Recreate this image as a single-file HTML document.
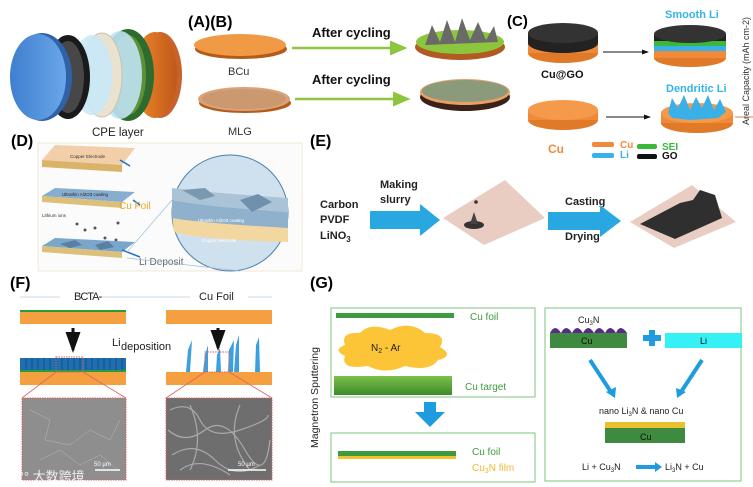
<!DOCTYPE html>
<html><head><meta charset="utf-8"><style>
html,body{margin:0;padding:0;background:#fff;width:753px;height:487px;overflow:hidden}
svg{display:block}
text{font-family:"Liberation Sans",Arial,sans-serif}
</style></head><body>
<svg width="753" height="487" viewBox="0 0 753 487" xmlns="http://www.w3.org/2000/svg">
<defs>
<linearGradient id="blu" x1="0" x2="1"><stop offset="0" stop-color="#3f7fd0"/><stop offset="1" stop-color="#6aa6e8"/></linearGradient>
<linearGradient id="org" x1="0" x2="1"><stop offset="0" stop-color="#f08a2a"/><stop offset="1" stop-color="#c0581a"/></linearGradient>
<linearGradient id="grn" x1="0" y1="0" x2="0" y2="1"><stop offset="0" stop-color="#7cc04a"/><stop offset="1" stop-color="#3d8a2a"/></linearGradient>
<linearGradient id="slab" x1="0" y1="0" x2="0" y2="1"><stop offset="0" stop-color="#6f9ec8"/><stop offset="1" stop-color="#b9d3e8"/></linearGradient>
<marker id="ga" markerWidth="8" markerHeight="8" refX="6" refY="4" orient="auto"><path d="M0,1 L7,4 L0,7 Z" fill="#8cc63f"/></marker>
<marker id="ka" markerWidth="8" markerHeight="8" refX="6" refY="4" orient="auto"><path d="M0,1.5 L7,4 L0,6.5 Z" fill="#111"/></marker>
</defs>

<!-- battery exploded view -->
<ellipse cx="160" cy="75" rx="22" ry="43" fill="#c8622a"/>
<ellipse cx="155" cy="75" rx="22" ry="43" fill="url(#org)"/>
<ellipse cx="128" cy="75" rx="26" ry="46" fill="#2e6b2e"/>
<ellipse cx="128" cy="75" rx="18" ry="40" fill="#6a9b3a" opacity=".8"/>
<ellipse cx="120" cy="75" rx="22" ry="44" fill="#bfe3f3" opacity=".9"/>
<ellipse cx="102" cy="75" rx="20" ry="42" fill="#e8e2cf" stroke="#c9c2ae"/>
<ellipse cx="92" cy="75" rx="20" ry="40" fill="#c9e9f7" opacity=".9"/>
<ellipse cx="68" cy="77" rx="22" ry="42" fill="#1a1a1a"/>
<ellipse cx="68" cy="77" rx="16" ry="36" fill="#666" opacity=".6"/>
<ellipse cx="42" cy="77" rx="30" ry="44" fill="#2f62a8"/>
<ellipse cx="38" cy="77" rx="28" ry="43" fill="url(#blu)"/>
<text x="92" y="136" font-size="11.5" fill="#222">CPE layer</text>

<!-- (A)(B) -->
<text x="188" y="27" font-size="16" font-weight="bold">(A)(B)</text>
<ellipse cx="241" cy="49" rx="46" ry="10" fill="#b55a1a"/>
<ellipse cx="240" cy="45" rx="46" ry="11" fill="#f09a45"/>
<text x="228" y="75" font-size="11" font-family="Liberation Serif,serif" fill="#333">BCu</text>
<ellipse cx="245" cy="103" rx="46" ry="10" fill="#b55a1a"/>
<ellipse cx="244" cy="99" rx="46" ry="12" fill="#d8a37a"/>
<ellipse cx="244" cy="99" rx="42" ry="10" fill="#c7936b" opacity=".7"/>
<text x="228" y="135" font-size="11" font-family="Liberation Serif,serif" fill="#333">MLG</text>
<text x="312" y="37" font-size="13" font-weight="bold" fill="#111">After cycling</text>
<line x1="292" y1="48" x2="405" y2="48" stroke="#8cc63f" stroke-width="2.5" marker-end="url(#ga)"/>
<text x="312" y="84" font-size="13" font-weight="bold" fill="#111">After cycling</text>
<line x1="295" y1="99" x2="408" y2="99" stroke="#8cc63f" stroke-width="2.5" marker-end="url(#ga)"/>
<ellipse cx="460" cy="47" rx="45" ry="13" fill="#b25a22"/>
<ellipse cx="460" cy="42" rx="44" ry="12" fill="#8cc63f"/>
<path d="M425,45 L432,25 L440,42 L447,20 L455,42 L462,18 L470,40 L478,22 L486,40 L494,26 L498,42 Z" fill="#6a6a66"/>
<ellipse cx="465" cy="97" rx="45" ry="14" fill="#3a2218"/>
<ellipse cx="465" cy="92" rx="45" ry="13" fill="#e8a066"/>
<ellipse cx="465" cy="91" rx="43" ry="11" fill="#8a9a7a"/>

<!-- (C) -->
<text x="507" y="26" font-size="15" font-weight="bold">(C)</text>
<ellipse cx="563" cy="53" rx="35" ry="10" fill="#e07a28"/>
<rect x="528" y="43" width="70" height="10" fill="#f08a3a"/>
<ellipse cx="563" cy="43" rx="35" ry="10" fill="#222"/>
<rect x="528" y="33" width="70" height="10" fill="#222"/>
<ellipse cx="563" cy="33" rx="35" ry="10" fill="#333"/>
<text x="541" y="78" font-size="11" font-weight="bold" fill="#111">Cu@GO</text>
<line x1="603" y1="52" x2="648" y2="52" stroke="#111" stroke-width="1" marker-end="url(#ka)"/>
<text x="665" y="18" font-size="11" font-weight="bold" fill="#33b5e8">Smooth Li</text>
<ellipse cx="690" cy="58" rx="36" ry="9" fill="#e07a28"/>
<rect x="654" y="50" width="72" height="8" fill="#f08a3a"/>
<rect x="654" y="45" width="72" height="6" fill="#3ab0e8"/>
<rect x="654" y="41" width="72" height="5" fill="#3ab83a"/>
<rect x="654" y="34" width="72" height="7" fill="#222"/>
<ellipse cx="690" cy="34" rx="36" ry="9" fill="#333"/>
<ellipse cx="563" cy="120" rx="35" ry="10" fill="#e07a28"/>
<rect x="528" y="110" width="70" height="10" fill="#f08a3a"/>
<ellipse cx="563" cy="110" rx="35" ry="10" fill="#f49a4a"/>
<line x1="606" y1="117" x2="650" y2="117" stroke="#111" stroke-width="1" marker-end="url(#ka)"/>
<text x="666" y="92" font-size="11" font-weight="bold" fill="#33b5e8">Dendritic Li</text>
<ellipse cx="697" cy="123" rx="36" ry="10" fill="#e07a28"/>
<rect x="661" y="113" width="72" height="10" fill="#f08a3a"/>
<ellipse cx="697" cy="113" rx="36" ry="10" fill="#f49a4a"/>
<path d="M668,113 L672,98 L678,108 L684,95 L690,110 L696,97 L702,108 L708,95 L714,110 L720,99 L726,112 L718,118 L690,120 L672,118 Z" fill="#3ab0e8"/>
<text x="548" y="153" font-size="12" font-weight="bold" fill="#f08a3a">Cu</text>
<rect x="592" y="142" width="22" height="5" rx="2" fill="#f08a3a"/>
<text x="620" y="148" font-size="10" font-weight="bold" fill="#f08a3a">Cu</text>
<rect x="592" y="153" width="22" height="5" rx="2" fill="#3ab0e8"/>
<text x="620" y="158" font-size="10" font-weight="bold" fill="#3ab0e8">Li</text>
<rect x="637" y="144" width="20" height="5" rx="2" fill="#3ab83a"/>
<text x="662" y="150" font-size="10" font-weight="bold" fill="#3ab83a">SEI</text>
<rect x="637" y="154" width="20" height="5" rx="2" fill="#111"/>
<text x="662" y="159" font-size="10" font-weight="bold" fill="#111">GO</text>
<text transform="translate(749,125) rotate(-90)" font-size="9" fill="#333">Areal Capacity (mAh cm-2)</text>
<line x1="735" y1="117" x2="753" y2="117" stroke="#c98a5a" stroke-width="1"/>

<!-- (D) -->
<text x="11" y="146" font-size="16" font-weight="bold">(D)</text>
<rect x="38" y="143" width="264" height="128" fill="#fbfbfb" stroke="#f0ead8"/>
<path d="M42,160 L55,145 L135,148 L122,165 Z" fill="#f2cfa8"/>
<path d="M42,160 L122,165 L122,172 L42,167 Z" fill="#d9b36a"/>
<text x="70" y="158" font-size="4.5" fill="#333">Copper Electrode</text>
<path d="M42,196 L55,188 L135,192 L122,202 Z" fill="#87aecf"/>
<path d="M42,196 L122,202 L122,208 L42,202 Z" fill="#dcbf78"/>
<text x="62" y="196" font-size="4.5" fill="#223">Ultrathin Al2O3 coating</text>
<text x="42" y="217" font-size="4.5" fill="#333">Lithium ions</text>
<g fill="#555"><circle cx="77" cy="224" r="1.5"/><circle cx="85" cy="230" r="1.5"/><circle cx="95" cy="228" r="1.5"/><circle cx="118" cy="223" r="1.5"/><circle cx="105" cy="238" r="1.5"/><circle cx="116" cy="240" r="1.5"/></g>
<path d="M42,246 L55,238 L135,242 L122,252 Z" fill="#7aa6cc"/>
<path d="M42,246 L122,252 L122,258 L42,252 Z" fill="#dcbf78"/>
<path d="M60,244 L75,240 L82,245 L70,248 Z M95,245 L108,241 L114,247 L100,250 Z" fill="#5a7fa0"/>
<path d="M120,160 L130,166 M133,200 L140,205 M122,250 L140,257" stroke="#1e6fd0" stroke-width="1.5"/>
<text x="119" y="209" font-size="10" fill="#e8a820">Cu Foil</text>
<text x="139" y="265" font-size="10" fill="#666">Li Deposit</text>
<circle cx="230" cy="213" r="58" fill="#cfe0ee" stroke="#4c7fa8" stroke-width="1"/>
<path d="M172,213 Q200,218 288,225 L288,242 Q200,240 174,232 Z" fill="#f3d7a0"/>
<path d="M172,200 Q200,206 288,212 L288,228 Q200,223 172,218 Z" fill="#8fb1cc"/>
<path d="M172,188 Q200,192 288,198 L288,212 Q200,206 172,200 Z" fill="#aac3d6"/>
<path d="M182,190 L205,188 L215,196 L200,200 Z" fill="#7a98b0"/>
<path d="M240,200 L258,194 L272,202 L252,212 Z" fill="#6f91ad"/>
<text x="198" y="222" font-size="4.5" fill="#fff">Ultrathin Al2O3 coating</text>
<text x="202" y="242" font-size="4.5" fill="#fff">Copper electrode</text>
<line x1="127" y1="252" x2="172" y2="200" stroke="#9cc0dc" stroke-width=".7"/>
<line x1="127" y1="258" x2="240" y2="271" stroke="#9cc0dc" stroke-width=".7"/>

<!-- (E) -->
<text x="310" y="146" font-size="16" font-weight="bold">(E)</text>
<text x="320" y="208" font-size="11" font-weight="bold" fill="#222">Carbon</text>
<text x="320" y="223" font-size="11" font-weight="bold" fill="#222">PVDF</text>
<text x="320" y="239" font-size="11" font-weight="bold" fill="#222">LiNO<tspan font-size="8" dy="3">3</tspan></text>
<text x="380" y="188" font-size="11" font-weight="bold" fill="#222">Making</text>
<text x="380" y="203" font-size="11" font-weight="bold" fill="#222">slurry</text>
<path d="M370,211 L420,211 L420,204 L440,220 L420,236 L420,229 L370,229 Z" fill="#29a7e1"/>
<path d="M443,218 L505,180 L545,218 L484,245 Z" fill="#e9cdc3"/>
<ellipse cx="474" cy="225" rx="10" ry="4" fill="#333"/>
<path d="M470,224 L474,212 L478,224 Z" fill="#444"/>
<circle cx="476" cy="202" r="1.8" fill="#333"/>
<text x="565" y="205" font-size="11" font-weight="bold" fill="#222">Casting</text>
<text x="565" y="240" font-size="11" font-weight="bold" fill="#222">Drying</text>
<path d="M548,212 L600,212 L600,205 L621,221 L600,237 L600,230 L548,230 Z" fill="#29a7e1"/>
<path d="M630,222 L692,185 L736,222 L674,248 Z" fill="#e9cdc3"/>
<path d="M640,224 L680,203 L693,200 L700,190 L715,195 L722,218 L675,239 Z" fill="#2f2f2f"/>

<!-- (F) -->
<text x="10" y="288" font-size="16" font-weight="bold">(F)</text>
<line x1="20" y1="297" x2="272" y2="297" stroke="#e4ecf4" stroke-width="2"/>
<rect x="60" y="289" width="40" height="14" fill="#fff"/>
<rect x="190" y="289" width="58" height="14" fill="#fff"/>
<text x="74" y="300" font-size="11" fill="#222" letter-spacing="-1">BCTA-</text>
<text x="199" y="300" font-size="11" fill="#222">Cu Foil</text>
<rect x="20" y="310" width="106" height="2.5" fill="#2a9d3a"/>
<rect x="20" y="312" width="106" height="12" fill="#f4a040"/>
<rect x="166" y="310" width="106" height="14" fill="#f4a040"/>
<line x1="73" y1="328" x2="73" y2="350" stroke="#111" stroke-width="3" marker-end="url(#ka)"/>
<line x1="218" y1="328" x2="218" y2="348" stroke="#111" stroke-width="3" marker-end="url(#ka)"/>
<text x="112" y="346" font-size="11" fill="#222">Li</text>
<text x="121" y="350" font-size="11" fill="#222">deposition</text>
<rect x="20" y="358" width="106" height="12" fill="#1f6eb0"/>
<g stroke="#0d3d70" stroke-width=".6">
<line x1="26" y1="358" x2="26" y2="370"/><line x1="32" y1="358" x2="32" y2="370"/><line x1="38" y1="358" x2="38" y2="370"/><line x1="44" y1="358" x2="44" y2="370"/><line x1="50" y1="358" x2="50" y2="370"/><line x1="56" y1="358" x2="56" y2="370"/><line x1="62" y1="358" x2="62" y2="370"/><line x1="68" y1="358" x2="68" y2="370"/><line x1="74" y1="358" x2="74" y2="370"/><line x1="80" y1="358" x2="80" y2="370"/><line x1="86" y1="358" x2="86" y2="370"/><line x1="92" y1="358" x2="92" y2="370"/><line x1="98" y1="358" x2="98" y2="370"/><line x1="104" y1="358" x2="104" y2="370"/><line x1="110" y1="358" x2="110" y2="370"/><line x1="116" y1="358" x2="116" y2="370"/><line x1="122" y1="358" x2="122" y2="370"/></g>
<rect x="20" y="370" width="106" height="2.5" fill="#2a9d3a"/>
<rect x="20" y="372" width="106" height="13" fill="#f4a040"/>
<rect x="56" y="357" width="27" height="15" fill="none" stroke="#e06060" stroke-dasharray="1.5,1"/>
<path d="M186,372 L188,350 L192,340 L190,372 Z M203,372 L205,355 L208,345 L208,372 Z M216,372 L217,355 L220,348 L221,372 Z M228,372 L229,350 L234,340 L233,372 Z M234,372 L236,345 L239,335 L239,372 Z M255,372 L256,345 L259,337 L260,372 Z" fill="#3aa0e0"/>
<rect x="166" y="372" width="106" height="13" fill="#f4a040"/>
<rect x="205" y="352" width="24" height="20" fill="none" stroke="#e06060" stroke-dasharray="1.5,1"/>
<path d="M56,372 L22,398 M83,372 L126,398 M205,372 L166,398 M229,372 L272,398" stroke="#e06060" stroke-width=".8"/>
<rect x="22" y="398" width="104" height="82" fill="#8e8e8e" stroke="#e06060" stroke-dasharray="1.5,1"/>
<rect x="166" y="398" width="106" height="82" fill="#6e6e6e" stroke="#e06060" stroke-dasharray="1.5,1"/>
<g stroke="#b8b8b8" fill="none" stroke-width="1.2" opacity=".8">
<path d="M170,410 Q190,400 200,420 T240,430 T268,415"/><path d="M168,430 Q185,445 205,430 T245,450 T270,440"/><path d="M172,455 Q195,440 215,460 T260,465"/><path d="M180,470 Q200,455 230,475"/><path d="M190,405 Q205,440 190,470"/><path d="M240,405 Q225,440 250,470"/></g>
<g stroke="#c8c8c8" fill="none" stroke-width=".5" opacity=".7"><path d="M30,410 L50,420 L45,440 L70,445 L90,430 L110,440 L120,420"/><path d="M40,460 L60,450 L80,465 L100,455 L118,470"/></g>
<line x1="95" y1="470" x2="120" y2="470" stroke="#fff" stroke-width="1.5"/>
<text x="94" y="466" font-size="6" fill="#fff">50 µm</text>
<line x1="228" y1="470" x2="266" y2="470" stroke="#fff" stroke-width="1.5"/>
<text x="238" y="466" font-size="6" fill="#fff">50 µm</text>
<text x="10" y="481" font-size="13" fill="#fff" opacity=".85" font-family="Liberation Sans,'Noto Sans CJK SC',sans-serif">K°° 大数跨境</text>

<!-- (G) -->
<text x="310" y="288" font-size="16" font-weight="bold">(G)</text>
<text transform="translate(318,448) rotate(-90)" font-size="10.5" fill="#222">Magnetron  Sputtering</text>
<rect x="331" y="308" width="204" height="89" fill="#fff" stroke="#7dc47d"/>
<rect x="336" y="313" width="118" height="5" fill="#3e9a3e"/>
<text x="470" y="320" font-size="10" fill="#3e9a3e">Cu foil</text>
<path d="M345,345 Q340,332 360,333 Q370,322 390,330 Q410,320 425,333 Q448,333 440,347 Q455,356 438,360 Q430,372 405,366 Q385,375 368,366 Q340,370 345,356 Q332,350 345,345 Z" fill="#fcc537"/>
<text x="371" y="351" font-size="10" fill="#222">N<tspan font-size="7" dy="2">2</tspan><tspan dy="-2"> -  Ar</tspan></text>
<rect x="334" y="376" width="118" height="19" fill="url(#grn)"/>
<text x="465" y="390" font-size="10" fill="#3e9a3e">Cu target</text>
<path d="M424,402 L436,402 L436,412 L445,412 L430,427 L415,412 L424,412 Z" fill="#1f9ce0"/>
<rect x="331" y="433" width="204" height="49" fill="#fff" stroke="#7dc47d"/>
<rect x="338" y="451" width="118" height="5" fill="#3e9a3e"/>
<rect x="338" y="456" width="118" height="3" fill="#f2c230"/>
<text x="472" y="455" font-size="10" fill="#3e9a3e">Cu foil</text>
<text x="472" y="471" font-size="10" fill="#f2b830">Cu<tspan font-size="7" dy="2">3</tspan><tspan dy="-2">N film</tspan></text>
<path d="M545,405 L555,405 L555,397 L575,416 L555,435 L555,427 L545,427 Z" fill="#1f9ce0"/>
<rect x="545" y="308" width="196" height="173" fill="#fff" stroke="#7dc47d"/>
<text x="578" y="323" font-size="9" fill="#222">Cu<tspan font-size="6" dy="2">3</tspan><tspan dy="-2">N</tspan></text>
<path d="M550,333 Q555,323 561,333 Q566,323 572,333 Q577,323 583,333 Q588,323 594,333 Q599,323 605,333 Q610,323 616,333 Q620,323 627,333 Z" fill="#5a2a8a"/>
<rect x="550" y="333" width="77" height="15" fill="#3e8a3e"/>
<text x="581" y="344" font-size="9" fill="#111">Cu</text>
<path d="M643,335 L649,335 L649,330 L655,330 L655,335 L661,335 L661,341 L655,341 L655,346 L649,346 L649,341 L643,341 Z" fill="#1f9ce0"/>
<rect x="665" y="333" width="77" height="15" fill="#35f0f5"/>
<text x="700" y="344" font-size="9" fill="#111">Li</text>
<line x1="590" y1="360" x2="611" y2="392" stroke="#1f9ce0" stroke-width="4"/>
<path d="M606,392 L615,398 L616,387 Z" fill="#1f9ce0"/>
<line x1="702" y1="360" x2="681" y2="392" stroke="#1f9ce0" stroke-width="4"/>
<path d="M676,388 L677,398 L686,392 Z" fill="#1f9ce0"/>
<text x="599" y="414" font-size="9" fill="#222">nano Li<tspan font-size="6" dy="2">3</tspan><tspan dy="-2">N &amp; nano Cu</tspan></text>
<rect x="605" y="422" width="80" height="6" fill="#e9c030"/>
<rect x="605" y="428" width="80" height="15" fill="#3e8a3e"/>
<text x="640" y="440" font-size="9" fill="#111">Cu</text>
<text x="582" y="470" font-size="9" fill="#222">Li  +  Cu<tspan font-size="6" dy="2">3</tspan><tspan dy="-2">N</tspan></text>
<path d="M636,465 L655,465 L655,462 L662,467 L655,472 L655,469 L636,469 Z" fill="#1f9ce0"/>
<text x="665" y="470" font-size="9" fill="#222">Li<tspan font-size="6" dy="2">3</tspan><tspan dy="-2">N  +  Cu</tspan></text>
</svg>
</body></html>
